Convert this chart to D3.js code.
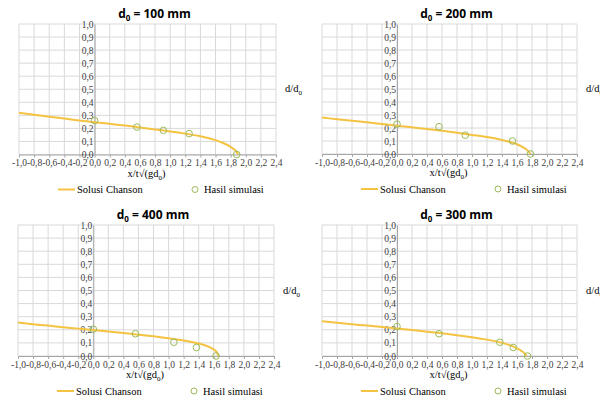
<!DOCTYPE html>
<html>
<head>
<meta charset="utf-8">
<script src="https://cdn.jsdelivr.net/npm/d3@7"></script>
<style>
  body { margin: 0; background: #fff; }
  svg { display: block; }
  svg text.serif { font-family: "Liberation Serif", "DejaVu Serif", "Times New Roman", serif !important; }
</style>
</head>
<body>
<svg width="600" height="396"></svg>
<script>
// axis ticks
const xTicks = [-1.0, -0.8, -0.6, -0.4, -0.2, 0.0, 0.2, 0.4, 0.6, 0.8, 1.0, 1.2, 1.4, 1.6, 1.8, 2.0, 2.2, 2.4];
const yTicks = [0.0, 0.1, 0.2, 0.3, 0.4, 0.5, 0.6, 0.7, 0.8, 0.9, 1.0];

// Solusi Chanson curves
const chanson100X = [-1.0, -0.8, -0.6, -0.4, -0.2, 0.0, 0.2, 0.4, 0.6, 0.8, 1.0, 1.2, 1.4, 1.6, 1.7, 1.8, 1.86, 1.9];
const chanson100Y = [0.32, 0.305, 0.29, 0.275, 0.26, 0.248, 0.235, 0.222, 0.207, 0.192, 0.177, 0.16, 0.14, 0.11, 0.088, 0.058, 0.032, 0.0];
const chanson200X = [-1.0, -0.8, -0.6, -0.4, -0.2, 0.0, 0.2, 0.4, 0.6, 0.8, 1.0, 1.2, 1.4, 1.5, 1.6, 1.7, 1.75, 1.78];
const chanson200Y = [0.28, 0.268, 0.256, 0.244, 0.231, 0.218, 0.205, 0.192, 0.178, 0.163, 0.147, 0.13, 0.108, 0.094, 0.075, 0.045, 0.022, 0.0];
const chanson400X = [-1.0, -0.8, -0.6, -0.4, -0.2, 0.0, 0.2, 0.4, 0.6, 0.8, 1.0, 1.2, 1.4, 1.5, 1.6, 1.64, 1.66];
const chanson400Y = [0.255, 0.243, 0.232, 0.22, 0.209, 0.198, 0.187, 0.175, 0.163, 0.15, 0.135, 0.118, 0.095, 0.078, 0.05, 0.03, 0.0];
const chanson300X = [-1.0, -0.8, -0.6, -0.4, -0.2, 0.0, 0.2, 0.4, 0.6, 0.8, 1.0, 1.2, 1.4, 1.5, 1.6, 1.68, 1.73];
const chanson300Y = [0.265, 0.254, 0.243, 0.232, 0.221, 0.21, 0.198, 0.186, 0.173, 0.159, 0.144, 0.125, 0.1, 0.083, 0.058, 0.03, 0.0];

// Hasil simulasi points
const sim100X = [0.0, 0.56, 0.91, 1.25, 1.88];
const sim100Y = [0.26, 0.21, 0.185, 0.16, 0.0];
const sim200X = [0.0, 0.56, 0.91, 1.54, 1.78];
const sim200Y = [0.23, 0.21, 0.145, 0.10, 0.0];
const sim400X = [0.0, 0.56, 1.07, 1.37, 1.63];
const sim400Y = [0.205, 0.17, 0.105, 0.065, 0.0];
const sim300X = [0.0, 0.56, 1.37, 1.55, 1.74];
const sim300Y = [0.225, 0.17, 0.105, 0.065, 0.0];

const titles = ["100", "200", "400", "300"];

// panel layout (plot area in page pixels)
const panels = [
  { left: 19, right: 276, top: 24, bottom: 154.5, cx: chanson100X, cy: chanson100Y, sx: sim100X, sy: sim100Y },
  { left: 322, right: 577, top: 24, bottom: 154, cx: chanson200X, cy: chanson200Y, sx: sim200X, sy: sim200Y },
  { left: 18, right: 274, top: 225, bottom: 356, cx: chanson400X, cy: chanson400Y, sx: sim400X, sy: sim400Y },
  { left: 322, right: 577, top: 225, bottom: 356, cx: chanson300X, cy: chanson300Y, sx: sim300X, sy: sim300Y }
];

const svg = d3.select("svg");
const fmt = d => d3.format(".1f")(d).replace(".", ",").replace("−", "-");
const SERIF = '"Liberation Serif", "DejaVu Serif", serif';

panels.forEach((p, i) => {
  const x = d3.scaleLinear().domain([-1.0, 2.4]).range([p.left, p.right]);
  const y = d3.scaleLinear().domain([0, 1]).range([p.bottom, p.top]);
  const g = svg.append("g");

  // grid
  g.append("g").selectAll("line").data(xTicks).enter().append("line")
    .attr("x1", d => x(d)).attr("x2", d => x(d))
    .attr("y1", p.top).attr("y2", p.bottom)
    .attr("stroke", "#d9d9d9").attr("stroke-width", 1);
  g.append("g").selectAll("line").data(yTicks).enter().append("line")
    .attr("x1", p.left).attr("x2", p.right)
    .attr("y1", d => y(d)).attr("y2", d => y(d))
    .attr("stroke", "#d9d9d9").attr("stroke-width", 1);

  // x axis at y=0
  const xAxis = d3.axisBottom(x).tickValues(xTicks).tickFormat(fmt).tickSizeInner(3).tickSizeOuter(0).tickPadding(2);
  const gx = g.append("g").attr("transform", "translate(0," + y(0) + ")").call(xAxis)
    .attr("font-family", SERIF).attr("font-size", 9.5);
  gx.select(".domain").attr("stroke", "#a6a6a6");
  gx.selectAll(".tick line").attr("stroke", "#a6a6a6");
  gx.selectAll("text").classed("serif", true).attr("fill", "#404040");

  // y axis at x=0
  const yAxis = d3.axisLeft(y).tickValues(yTicks).tickFormat(fmt).tickSize(0).tickPadding(1);
  const gy = g.append("g").attr("transform", "translate(" + x(0) + ",0)").call(yAxis)
    .attr("font-family", SERIF).attr("font-size", 9.5);
  gy.select(".domain").attr("stroke", "#a6a6a6");
  gy.selectAll("text").classed("serif", true).attr("fill", "#404040");

  // Chanson curve
  const pts = p.cx.map((v, k) => [v, p.cy[k]]);
  g.append("path").datum(pts)
    .attr("d", d3.line().x(d => x(d[0])).y(d => y(d[1])).curve(d3.curveMonotoneY))
    .attr("fill", "none").attr("stroke", "#f5c342").attr("stroke-width", 2);

  // simulation markers
  const sp = p.sx.map((v, k) => [v, p.sy[k]]);
  g.append("g").selectAll("circle").data(sp).enter().append("circle")
    .attr("cx", d => x(d[0])).attr("cy", d => y(d[1])).attr("r", 3.3)
    .attr("fill", "none").attr("stroke", "#9bbb59").attr("stroke-width", 1);

  // title
  const cxMid = (p.left + p.right) / 2 - 1;
  const title = g.append("text").attr("x", cxMid + 8).attr("y", p.top - 6)
    .attr("text-anchor", "middle").attr("font-family", "Open Sans, sans-serif")
    .attr("font-weight", 700).attr("font-size", 12).attr("fill", "#000");
  title.append("tspan").text("d");
  title.append("tspan").attr("font-size", 8).attr("dy", 3).text("0");
  title.append("tspan").attr("dy", -3).text(" = " + titles[i] + " mm");

  // y label d/d0
  const yl = g.append("text").attr("class", "serif").attr("font-family", SERIF)
    .attr("x", p.right + 9).attr("y", y(0.5) + 3)
    .attr("font-size", 10.5).attr("fill", "#000");
  yl.append("tspan").text("d/d");
  yl.append("tspan").attr("font-size", 7).attr("dy", 3).text("0");

  // x label
  const xl = g.append("text").attr("class", "serif").attr("font-family", SERIF)
    .attr("x", cxMid).attr("y", p.bottom + 22)
    .attr("text-anchor", "middle").attr("font-size", 10.5).attr("fill", "#000");
  xl.append("tspan").text("x/t√(gd");
  xl.append("tspan").attr("font-size", 7).attr("dy", 3).text("0");
  xl.append("tspan").attr("dy", -3).text(")");

  // legend
  const ly = p.bottom + 35;
  const lx = p.left + 39;
  g.append("line").attr("x1", lx).attr("x2", lx + 17).attr("y1", ly).attr("y2", ly)
    .attr("stroke", "#f5c342").attr("stroke-width", 2);
  g.append("text").attr("class", "serif").attr("font-family", SERIF)
    .attr("x", lx + 19).attr("y", ly + 3.5)
    .attr("font-size", 10.5).attr("fill", "#000").text("Solusi Chanson");
  g.append("circle").attr("cx", lx + 137).attr("cy", ly).attr("r", 3)
    .attr("fill", "none").attr("stroke", "#9bbb59").attr("stroke-width", 1);
  g.append("text").attr("class", "serif").attr("font-family", SERIF)
    .attr("x", lx + 146).attr("y", ly + 3.5)
    .attr("font-size", 10.5).attr("fill", "#000").text("Hasil simulasi");
});
</script>
</body>
</html>
